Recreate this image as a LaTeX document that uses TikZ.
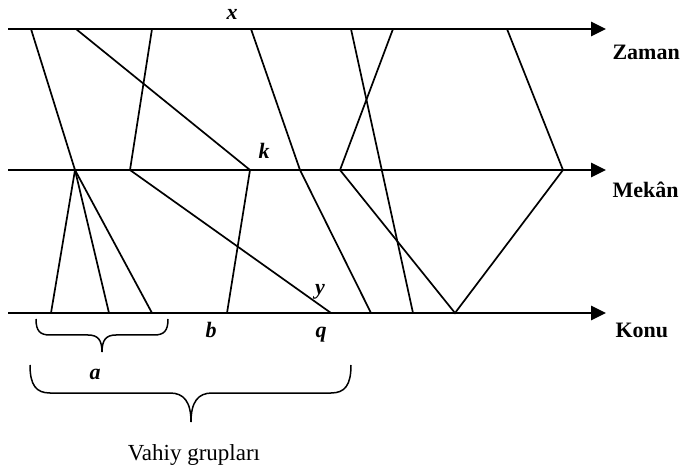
\documentclass[tikz,border=0pt]{standalone}
\usepackage{fontspec}
\setmainfont{Liberation Serif}
\usepackage{tikz}
\usetikzlibrary{
	arrows.meta,
	calc
}

\begin{document}
\begin{tikzpicture}[x=1pt, y=-1pt,
		axis/.style={line width=2.6pt, -{Triangle[length=15pt, width=14pt]}},
		link/.style={line width=1.7pt},
		grp/.style={line width=1.5pt},
		lbl/.style={font=\fontsize{22}{26}\selectfont\bfseries\itshape, anchor=base},
		axlbl/.style={font=\fontsize{22}{26}\selectfont\bfseries, anchor=base west}]
		\useasboundingbox (0,0) rectangle (683,470);
		
		% eksenler
		\draw[axis] (8,29) -- (606,29);
		\draw[axis] (8,170) -- (606,170);
		\draw[axis] (8,313) -- (606,313);
		\node[axlbl] (zaman) at (609,60) {Zaman};
		\node[axlbl] (mekan) at (609,198) {Mekân};
		\node[axlbl] (konu) at (612,338) {Konu};
		
		% Zaman ekseni
		\coordinate (t1) at (31,29);
		\coordinate (t2) at (76,29);
		\coordinate (t3) at (152,29);
		\coordinate (t4) at (251,29);
		\coordinate (t5) at (351,29);
		\coordinate (t6) at (393,29);
		\coordinate (t7) at (507,29);
		% Mekan ekseni
		\coordinate (m1) at (75,170);
		\coordinate (m2) at (130,170);
		\coordinate (k) at (250,170);
		\coordinate (m4) at (300,170);
		\coordinate (m6) at (340,170);
		\coordinate (m7) at (563,170);
		% Konu ekseni
		\coordinate (b1) at (51,313);
		\coordinate (b2) at (109,313);
		\coordinate (b3) at (152,313);
		\coordinate (b) at (227,313);
		\coordinate (q) at (331,313);
		\coordinate (b6) at (371,313);
		\coordinate (b7) at (413,313);
		\coordinate (b8) at (455,313);
		
		\draw[link] (t1) -- (m1);
		\draw[link] (t2) -- (k);
		\draw[link] (t3) -- (m2);
		\draw[link] (t4) -- (m4) -- (b6);
		\draw[link] (t5) -- (b7);
		\draw[link] (t6) -- (m6) -- (b8) -- (m7) -- (t7);
		\draw[link] (m1) -- (b1);
		\draw[link] (m1) -- (b2);
		\draw[link] (m1) -- (b3);
		\draw[link] (k) -- (b);
		\draw[link] (m2) -- (q);
		
		\node[lbl] (lx) at (232,20) {x};
		\node[lbl] (lk) at (264,159) {k};
		\node[lbl] (ly) at (320,295) {y};
		\node[lbl] (lb) at (211,338) {b};
		\node[lbl] (lq) at (321,338) {q};
		\node[lbl] (la) at (95,380) {a};
		
		% gruplar
		\draw[grp] (36,319) .. controls (36,331) and (40,335) .. (50,335) -- (88,335)
			.. controls (98,335) and (102,340) .. (102,352)
			.. controls (102,340) and (106,335) .. (116,335) -- (154,335)
			.. controls (164,335) and (168,331) .. (168,319);
		\draw[grp] (30,365) .. controls (30,385) and (36,393) .. (50,393) -- (170,393)
			.. controls (184,393) and (191,402) .. (191,422)
			.. controls (191,402) and (198,393) .. (212,393) -- (331,393)
			.. controls (345,393) and (351,385) .. (351,365);
		\node[font=\fontsize{23}{27}\selectfont, anchor=base] (vahiy) at (194,460) {Vahiy grupları};
	\end{tikzpicture}
\end{document}
